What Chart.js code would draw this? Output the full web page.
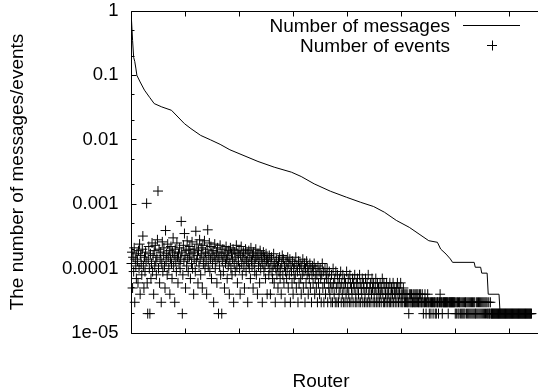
<!DOCTYPE html>
<html>
<head>
<meta charset="utf-8">
<script src="https://cdn.jsdelivr.net/npm/chart.js@4.4.0/dist/chart.umd.min.js"></script>
<style>
html,body{margin:0;padding:0;background:#fff;overflow:hidden}
#wrap{position:relative;width:538px;height:391px}
</style>
</head>
<body>
<div id="wrap"><canvas id="c" width="538" height="391"></canvas></div>
<script>
// ---------- data ----------
const seriesNames = ['Number of messages', 'Number of events'];
const xTitle = 'Router';
const yTitle = 'The number of messages/events';
const yTickValues = [1e-5, 1e-4, 1e-3, 1e-2, 1e-1, 1];
const yTickLabels = ['1e-05', '0.0001', '0.001', '0.01', '0.1', '1'];
const yMinorTickValues = [2e-5, 5e-5, 2e-4, 5e-4, 2e-3, 5e-3, 2e-2, 5e-2, 2e-1, 5e-1];
const xTickValues = [0, 100, 200, 300, 400, 500, 600, 700];
const xMin = 0, xMax = 741;

// Number of messages (router rank -> normalized value)
const messageRouter = [0,2,4,6,8,10,16,24,34,42,56,74,86,98,110,128,146,164,182,234,264,296,314,338,368,398,424,448,468,490,514,532,550,566,572,582,590,594,634,636,646,648,658,660,680,682,741];
const messageValue = [0.72,0.35,0.19,0.165,0.13,0.1,0.079,0.059,0.045,0.0365,0.0324,0.0287,0.0226,0.0178,0.0149,0.0117,0.0100,0.0085,0.0070,0.00461,0.00376,0.00314,0.00269,0.00207,0.00159,0.00128,0.00107,0.00092,0.00075,0.00056,0.000437,0.000344,0.000271,0.000256,0.000201,0.000168,0.000141,0.000125,0.000125,0.000105,0.000105,0.000085,0.000085,0.00004,0.00004,0.00002,0.00002];

// Number of events, one value per router in the same rank order
const eventValue = [
12e-5,18e-5,5e-5,15e-5,9e-5,21e-5,3e-5,14e-5,11e-5,7e-5,
17e-5,13e-5,6e-5,19e-5,10e-5,24e-5,4e-5,16e-5,12e-5,8e-5,
20e-5,32e-5,11e-5,5e-5,15e-5,9e-5,18e-5,13e-5,103e-5,6e-5,
2e-5,14e-5,22e-5,10e-5,2e-5,17e-5,7e-5,12e-5,25e-5,9e-5,
16e-5,4e-5,19e-5,11e-5,23e-5,13e-5,8e-5,15e-5,28e-5,160e-5,
10e-5,20e-5,6e-5,14e-5,18e-5,3e-5,12e-5,26e-5,9e-5,16e-5,
21e-5,11e-5,5e-5,39e-5,13e-5,17e-5,8e-5,24e-5,15e-5,10e-5,
19e-5,4e-5,14e-5,22e-5,12e-5,7e-5,18e-5,30e-5,11e-5,16e-5,
3e-5,20e-5,13e-5,9e-5,25e-5,15e-5,6e-5,17e-5,12e-5,21e-5,
10e-5,14e-5,54e-5,18e-5,2e-5,8e-5,23e-5,13e-5,35e-5,16e-5,
5e-5,19e-5,11e-5,27e-5,14e-5,9e-5,20e-5,
15e-5,22e-5,7e-5,17e-5,12e-5,26e-5,10e-5,18e-5,4e-5,14e-5,
20e-5,9e-5,38e-5,13e-5,24e-5,16e-5,6e-5,19e-5,11e-5,28e-5,
14e-5,8e-5,21e-5,17e-5,5e-5,23e-5,12e-5,15e-5,27e-5,10e-5,
18e-5,13e-5,4e-5,20e-5,40e-5,11e-5,16e-5,25e-5,9e-5,14e-5,
22e-5,7e-5,17e-5,12e-5,19e-5,3e-5,15e-5,24e-5,10e-5,13e-5,
18e-5,6e-5,21e-5,14e-5,2e-5,16e-5,11e-5,23e-5,8e-5,17e-5,
2e-5,13e-5,20e-5,9e-5,15e-5,5e-5,18e-5,12e-5,22e-5,14e-5,
7e-5,16e-5,11e-5,19e-5,4e-5,13e-5,21e-5,10e-5,17e-5,8e-5,
14e-5,20e-5,3e-5,12e-5,18e-5,9e-5,15e-5,23e-5,11e-5,6e-5,
17e-5,13e-5,19e-5,10e-5,4e-5,16e-5,22e-5,12e-5,8e-5,15e-5,
18e-5,11e-5,5e-5,14e-5,20e-5,9e-5,13e-5,17e-5,3e-5,12e-5,
19e-5,10e-5,15e-5,7e-5,21e-5,13e-5,11e-5,16e-5,5e-5,18e-5,
12e-5,9e-5,14e-5,20e-5,8e-5,15e-5,4e-5,17e-5,11e-5,13e-5,
6e-5,19e-5,10e-5,14e-5,16e-5,3e-5,12e-5,18e-5,9e-5,15e-5,
11e-5,7e-5,17e-5,13e-5,4e-5,14e-5,
12e-5,8e-5,16e-5,10e-5,4e-5,13e-5,15e-5,9e-5,7e-5,11e-5,
17e-5,6e-5,12e-5,3e-5,10e-5,14e-5,8e-5,11e-5,5e-5,13e-5,
9e-5,15e-5,7e-5,10e-5,4e-5,12e-5,16e-5,8e-5,14e-5,6e-5,
11e-5,3e-5,9e-5,13e-5,7e-5,10e-5,15e-5,5e-5,12e-5,8e-5,
14e-5,3e-5,11e-5,9e-5,6e-5,13e-5,4e-5,10e-5,7e-5,12e-5,
8e-5,15e-5,5e-5,11e-5,9e-5,3e-5,13e-5,6e-5,10e-5,12e-5,
7e-5,4e-5,11e-5,8e-5,14e-5,5e-5,9e-5,12e-5,3e-5,10e-5,
6e-5,13e-5,8e-5,11e-5,4e-5,9e-5,7e-5,12e-5,5e-5,10e-5,
3e-5,8e-5,11e-5,6e-5,9e-5,12e-5,4e-5,7e-5,10e-5,5e-5,
8e-5,3e-5,11e-5,6e-5,9e-5,4e-5,10e-5,7e-5,3e-5,8e-5,
12e-5,5e-5,9e-5,3e-5,6e-5,10e-5,4e-5,8e-5,7e-5,
10e-5,3e-5,7e-5,5e-5,9e-5,4e-5,6e-5,3e-5,8e-5,5e-5,
3e-5,10e-5,6e-5,4e-5,7e-5,3e-5,9e-5,5e-5,3e-5,8e-5,
6e-5,3e-5,4e-5,7e-5,5e-5,9e-5,3e-5,6e-5,4e-5,8e-5,
3e-5,5e-5,7e-5,3e-5,6e-5,4e-5,9e-5,3e-5,5e-5,7e-5,
4e-5,3e-5,8e-5,6e-5,3e-5,5e-5,4e-5,7e-5,3e-5,6e-5,
5e-5,8e-5,3e-5,4e-5,6e-5,3e-5,7e-5,5e-5,4e-5,3e-5,
8e-5,6e-5,3e-5,5e-5,4e-5,7e-5,3e-5,6e-5,5e-5,3e-5,
4e-5,7e-5,3e-5,5e-5,6e-5,3e-5,8e-5,4e-5,3e-5,5e-5,
6e-5,3e-5,4e-5,7e-5,5e-5,3e-5,6e-5,4e-5,3e-5,5e-5,
7e-5,3e-5,4e-5,6e-5,3e-5,5e-5,4e-5,3e-5,6e-5,4e-5,
3e-5,5e-5,7e-5,4e-5,3e-5,6e-5,3e-5,5e-5,4e-5,3e-5,
6e-5,4e-5,3e-5,5e-5,4e-5,3e-5,6e-5,3e-5,4e-5,5e-5,
3e-5,4e-5,6e-5,3e-5,5e-5,4e-5,3e-5,4e-5,
5e-5,3e-5,6e-5,4e-5,3e-5,5e-5,4e-5,3e-5,6e-5,4e-5,
3e-5,4e-5,3e-5,5e-5,4e-5,3e-5,4e-5,3e-5,4e-5,3e-5,
4e-5,3e-5,3e-5,2e-5,4e-5,3e-5,4e-5,3e-5,4e-5,3e-5,
3e-5,4e-5,3e-5,4e-5,3e-5,3e-5,4e-5,3e-5,4e-5,3e-5,
4e-5,3e-5,3e-5,4e-5,3e-5,4e-5,3e-5,3e-5,4e-5,3e-5,
2e-5,3e-5,3e-5,4e-5,3e-5,2e-5,3e-5,3e-5,4e-5,3e-5,
3e-5,2e-5,3e-5,3e-5,2e-5,3e-5,3e-5,3e-5,2e-5,3e-5,
3e-5,3e-5,2e-5,
3e-5,2e-5,3e-5,3e-5,3e-5,2e-5,3e-5,3e-5,4e-5,3e-5,
3e-5,3e-5,2e-5,3e-5,3e-5,3e-5,3e-5,3e-5,3e-5,3e-5,
3e-5,3e-5,3e-5,2e-5,3e-5,3e-5,3e-5,3e-5,3e-5,3e-5,
3e-5,3e-5,3e-5,3e-5,3e-5,3e-5,2e-5,3e-5,2e-5,3e-5,
3e-5,2e-5,3e-5,2e-5,3e-5,3e-5,2e-5,3e-5,2e-5,3e-5,
2e-5,3e-5,2e-5,3e-5,2e-5,3e-5,3e-5,2e-5,3e-5,2e-5,
3e-5,2e-5,3e-5,2e-5,3e-5,2e-5,3e-5,2e-5,3e-5,2e-5,
3e-5,2e-5,3e-5,2e-5,2e-5,3e-5,2e-5,3e-5,2e-5,3e-5,
2e-5,3e-5,2e-5,3e-5,2e-5,3e-5,2e-5,3e-5,2e-5,3e-5,
2e-5,3e-5,2e-5,3e-5,2e-5,
3e-5,2e-5,2e-5,3e-5,2e-5,2e-5,3e-5,2e-5,2e-5,2e-5,
2e-5,2e-5,2e-5,2e-5,2e-5,2e-5,2e-5,2e-5,2e-5,2e-5,
2e-5,2e-5,2e-5,2e-5,2e-5,2e-5,2e-5,2e-5,2e-5,2e-5,
2e-5,2e-5,2e-5,2e-5,2e-5,2e-5,2e-5,2e-5,2e-5,2e-5,
2e-5,2e-5,2e-5,2e-5,2e-5,2e-5,2e-5,2e-5,2e-5,2e-5,
2e-5,2e-5,2e-5,2e-5,2e-5,2e-5,2e-5,2e-5,2e-5,2e-5,
2e-5,2e-5,2e-5,2e-5,2e-5,2e-5,2e-5,2e-5,2e-5,2e-5,
2e-5,2e-5,2e-5,2e-5,2e-5,2e-5,2e-5,2e-5,2e-5,2e-5,
2e-5,2e-5,2e-5
];

// ---------- drawing ----------
const FONT = '"Liberation Sans", Arial, Helvetica, sans-serif';

const gnuplotFrame = {
  id: 'gnuplotFrame',
  afterDraw(chart) {
    const { ctx, chartArea: a, scales } = chart;
    const xs = scales.x, ys = scales.y;
    const L = Math.floor(a.left) + 0.5;
    const T = Math.floor(a.top) + 0.5;
    const B = Math.floor(a.bottom) + 0.5;
    const R = chart.width + 2;
    ctx.save();
    ctx.strokeStyle = '#000';
    ctx.lineWidth = 1;
    ctx.beginPath();
    ctx.moveTo(R, T); ctx.lineTo(L, T); ctx.lineTo(L, B); ctx.lineTo(R, B);
    xTickValues.forEach(v => {
      const px = Math.floor(xs.getPixelForValue(v)) + 0.5;
      ctx.moveTo(px, B); ctx.lineTo(px, B - 5);
      ctx.moveTo(px, T); ctx.lineTo(px, T + 5);
    });
    yTickValues.forEach(v => {
      const py = Math.floor(ys.getPixelForValue(v)) + 0.5;
      ctx.moveTo(L, py); ctx.lineTo(L + 5, py);
    });
    yMinorTickValues.forEach(v => {
      const py = Math.floor(ys.getPixelForValue(v)) + 0.5;
      ctx.moveTo(L, py); ctx.lineTo(L + 3, py);
    });
    ctx.stroke();

    // key (gnuplot style: right-aligned text, sample to the right)
    ctx.font = '19px ' + FONT;
    ctx.fillStyle = '#000';
    ctx.textAlign = 'right';
    ctx.textBaseline = 'alphabetic';
    ctx.fillText(chart.data.datasets[0].label, 450, 32);
    ctx.fillText(chart.data.datasets[1].label, 450, 51.5);
    ctx.beginPath();
    ctx.moveTo(463, 25.5); ctx.lineTo(520, 25.5);
    ctx.moveTo(487, 45.5); ctx.lineTo(497, 45.5);
    ctx.moveTo(492.5, 40.5); ctx.lineTo(492.5, 50.5);
    ctx.stroke();

    // axis titles
    ctx.textAlign = 'center';
    ctx.fillText(xTitle, 321, 387);
    ctx.save();
    ctx.translate(18, (a.top + a.bottom) / 2);
    ctx.rotate(-Math.PI / 2);
    ctx.textBaseline = 'middle';
    ctx.fillText(yTitle, 0, 0);
    ctx.restore();
    ctx.restore();
  }
};

new Chart(document.getElementById('c'), {
  data: {
    datasets: [
      {
        type: 'line',
        label: seriesNames[0],
        data: messageRouter.map((x, i) => ({ x: x, y: messageValue[i] })),
        borderColor: '#000',
        backgroundColor: '#000',
        borderWidth: 1,
        pointRadius: 0,
        tension: 0,
        fill: false,
        order: 2
      },
      {
        type: 'scatter',
        label: seriesNames[1],
        data: eventValue.map((y, i) => ({ x: i, y: y })),
        pointStyle: 'cross',
        pointRadius: 5,
        pointBorderWidth: 1,
        borderColor: '#000',
        backgroundColor: '#000',
        clip: false,
        order: 1
      }
    ]
  },
  options: {
    responsive: false,
    animation: false,
    devicePixelRatio: 1,
    layout: { padding: { top: 11, left: 0, right: 0, bottom: 0 } },
    plugins: { legend: { display: false }, tooltip: { enabled: false } },
    scales: {
      x: {
        type: 'linear',
        min: xMin,
        max: xMax,
        display: true,
        grid: { display: false, drawTicks: false },
        border: { display: false },
        ticks: { display: false },
        afterFit: s => { s.height = 58; s.paddingLeft = 0; s.paddingRight = 0; }
      },
      y: {
        type: 'logarithmic',
        min: 1e-5,
        max: 1,
        position: 'left',
        grid: { display: false, drawTicks: false },
        border: { display: false },
        afterBuildTicks: s => { s.ticks = yTickValues.map(v => ({ value: v, major: true })); },
        afterFit: s => { s.width = 131.5; s.paddingTop = 0; s.paddingBottom = 0; },
        ticks: {
          autoSkip: false,
          padding: 13,
          color: '#000',
          font: { family: FONT, size: 18.5, lineHeight: 1.1 },
          callback: v => {
            const k = yTickValues.indexOf(v);
            return k >= 0 ? yTickLabels[k] : '';
          }
        }
      }
    }
  },
  plugins: [gnuplotFrame]
});
</script>
</body>
</html>
